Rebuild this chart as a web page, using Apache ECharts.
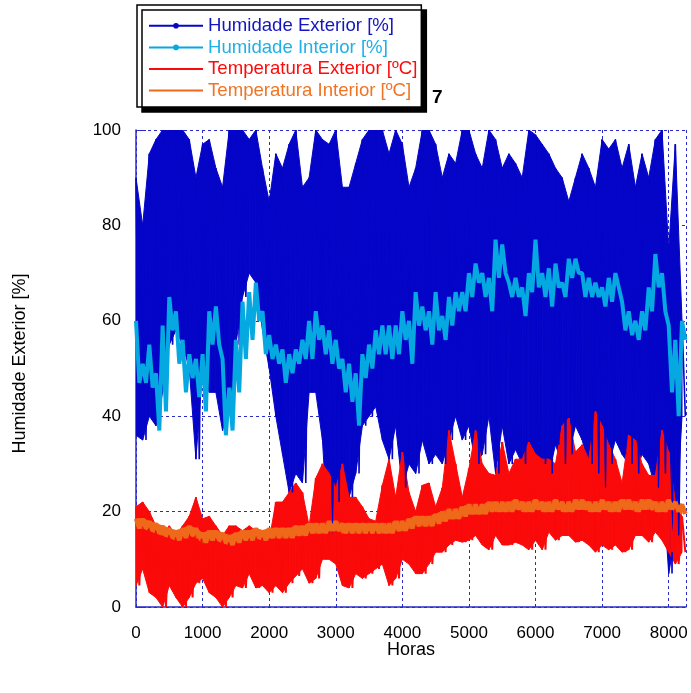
<!DOCTYPE html>
<html>
<head>
<meta charset="utf-8">
<title>Humidade e Temperatura</title>
<script src="https://cdn.jsdelivr.net/npm/echarts@6/dist/echarts.min.js"></script>
<style>
    html, body { margin: 0; padding: 0; background: #fff; }
    #chart { width: 691px; height: 693px; }
</style>
</head>
<body>
<div id="chart"></div>
<script>
// each value is the max (hi) / min (lo) for a 100 hour bin (0, 100, ... 8200)
var binStep = 100;

var humExtHi = [90, 80, 95, 98, 100, 100, 100, 100, 98, 90,
    97, 98, 92, 88, 100, 100, 100, 98, 100, 92,
    85, 95, 92, 97, 100, 88, 90, 100, 98, 97,
    100, 88, 88, 93, 98, 100, 100, 100, 95, 100,
    97, 88, 92, 100, 100, 97, 90, 95, 93, 100,
    100, 95, 92, 100, 98, 92, 95, 93, 90, 100,
    99, 97, 95, 92, 90, 85, 90, 95, 92, 88,
    98, 96, 98, 92, 97, 88, 95, 90, 98, 100,
    75, 97, 60];
var humExtLo = [36, 35, 40, 38, 45, 55, 58, 55, 50, 31,
    50, 45, 45, 37, 42, 55, 65, 70, 68, 58,
    50, 40, 32, 24, 28, 26, 45, 45, 35, 12,
    22, 30, 23, 28, 38, 40, 42, 35, 31, 38,
    25, 30, 28, 35, 30, 32, 30, 35, 40, 35,
    38, 30, 32, 40, 28, 38, 30, 33, 30, 34,
    32, 30, 28, 34, 30, 32, 38, 35, 30, 28,
    25, 30, 35, 32, 30, 28, 32, 30, 25, 28,
    7, 15, 40];

var humIntHi = [60, 51, 55, 49, 59, 65, 62, 56, 53, 52,
    53, 62, 63, 52, 46, 56, 64, 66, 68, 62,
    57, 55, 54, 53, 54, 56, 60, 62, 59, 58,
    56, 52, 51, 49, 53, 55, 58, 59, 59, 59,
    62, 60, 66, 63, 62, 66, 61, 65, 66, 66,
    70, 72, 70, 69, 77, 76, 68, 69, 67, 70,
    77, 70, 71, 72, 68, 73, 73, 70, 69, 68,
    67, 69, 70, 64, 62, 60, 62, 67, 74, 70,
    59, 56, 60];
var humIntLo = [47, 47, 46, 37, 41, 58, 51, 45, 48, 44,
    41, 55, 55, 36, 37, 45, 52, 56, 60, 53,
    52, 51, 47, 49, 51, 52, 52, 56, 53, 51,
    50, 45, 43, 38, 48, 50, 53, 53, 52, 53,
    56, 51, 59, 58, 55, 58, 56, 59, 62, 62,
    65, 68, 65, 62, 69, 70, 65, 65, 61, 66,
    67, 65, 63, 67, 65, 69, 70, 65, 65, 65,
    63, 64, 67, 58, 57, 56, 58, 62, 67, 62,
    45, 40, 56];

var tempExtHi = [21, 22, 20, 17, 15, 17, 15, 17, 19, 23,
    18.5, 19, 17, 15, 17, 17, 16, 17, 16, 16,
    14, 22, 22, 24, 26, 24, 17, 27, 30, 28,
    25, 30, 23, 23, 21, 18.5, 18, 25.5, 31, 23,
    32.5, 24, 20, 25.5, 26, 21, 25, 37, 30, 23,
    29, 37, 30, 28, 27.6, 34.6, 28, 31, 31, 34.6,
    32, 31, 31, 30, 38, 39.6, 32.5, 34, 31, 41,
    38, 34, 31, 26, 36, 35, 30, 27.6, 27.6, 37,
    32.5, 22, 19];
var tempExtLo = [4.5, 8, 3, 2, 0, 4.5, 2, 0, 2, 5,
    6, 3, 2, 0, 2, 4.5, 4, 7, 4, 4.5,
    3, 4.5, 3, 5, 6.5, 8, 5, 6, 10, 10,
    9, 4.5, 4, 7, 6, 7, 8, 9, 4.5, 6,
    10, 9, 7, 7, 9, 11.5, 11.5, 13, 14, 13.6,
    14, 15, 13, 12, 15, 13, 13, 13.6, 13, 12,
    14, 12, 15.7, 14, 15, 15, 13.6, 14, 13, 11.5,
    13, 12, 13, 11.5, 12, 15, 15, 13.6, 15.7, 14,
    11.5, 9, 11.5];

var tempIntHi = [18.5, 18.5, 18, 17.5, 17, 16.5, 16, 16.5, 17, 16.5,
    15.5, 16, 16, 15.5, 15, 15.5, 16, 16, 16.5, 16,
    16.5, 16.5, 16.5, 16.5, 17, 17, 17.5, 17.5, 17.5, 18,
    18, 17.5, 17.5, 17.5, 17.5, 17.5, 17.5, 17.5, 17.5, 18,
    18, 18.5, 19, 19, 19, 19.5, 20, 20.5, 20.5, 21,
    21.5, 21.5, 21.5, 22, 22, 22, 22, 22.5, 22, 22,
    22.5, 22, 22, 22.5, 22, 22, 22.5, 22.5, 22, 22,
    22.5, 22, 22, 22.5, 22.5, 22, 22.5, 22.5, 22, 22,
    22.5, 22, 21.5];
var tempIntLo = [16.5, 16.5, 16, 15.5, 15, 14.5, 14, 14.5, 15, 14.5,
    13.5, 14, 14, 13.5, 13, 13.5, 14, 14, 14.5, 14,
    14.5, 14.5, 14.5, 14.5, 15, 15, 15.5, 15.5, 15.5, 16,
    16, 15.5, 15.5, 15.5, 15.5, 15.5, 15.5, 15.5, 15.5, 16,
    16, 16.5, 17, 17, 17, 17.5, 18, 18.5, 18.5, 19,
    19.5, 19.5, 19.5, 20, 20, 20, 20, 20.5, 20, 20,
    20.5, 20, 20, 20.5, 20, 20, 20.5, 20.5, 20, 20,
    20.5, 20, 20, 20.5, 20.5, 20, 20.5, 20.5, 20, 20,
    20.5, 20, 19.5];

var seriesNames = ['Humidade Exterior [%]', 'Humidade Interior [%]', 'Temperatura Exterior [ºC]', 'Temperatura Interior [ºC]'];
var seriesColors = ['#0505c8', '#05a8e0', '#fa0a0a', '#ee6a1a'];
var legendTextColors = ['#1414c0', '#1eb0e6', '#ff0a0a', '#f07424'];

// hi at the start of the bin, lo at its middle -> dense trace like the hourly data
function zigzag(hi, lo) {
    var pts = [];
    for (var i = 0; i < hi.length; i++) {
        pts.push([i * binStep, hi[i]]);
        pts.push([i * binStep + binStep / 2, lo[i]]);
    }
    return pts;
}

// filled band lo..hi: one quad per bin, drawn by a custom series through the axes
function bandSeries(id, hi, lo, color) {
    var rows = [];
    for (var i = 0; i < hi.length - 1; i++) {
        rows.push([i * binStep, lo[i], hi[i], (i + 1) * binStep, lo[i + 1], hi[i + 1]]);
    }
    return {
        name: id,
        type: 'custom',
        silent: true,
        clip: true,
        data: rows,
        encode: {x: [0, 3], y: [1, 2, 4, 5]},
        renderItem: function (params, api) {
            var pts = [
                api.coord([api.value(0), api.value(1)]),
                api.coord([api.value(0), api.value(2)]),
                api.coord([api.value(3), api.value(5)]),
                api.coord([api.value(3), api.value(4)])
            ];
            return {
                type: 'polygon',
                shape: {points: pts},
                style: {fill: color, stroke: color, lineWidth: 1}
            };
        }
    };
}

var font = 'Liberation Sans, Arial, sans-serif';
var gridBlue = '#2a2ac8';

var series = [];
series.push(bandSeries('hext', humExtHi, humExtLo, seriesColors[0]));
series.push({
    name: seriesNames[0], type: 'line', data: zigzag(humExtHi, humExtLo),
    symbol: 'circle', symbolSize: 6, showSymbol: false,
    lineStyle: {color: seriesColors[0], width: 1.6}, itemStyle: {color: seriesColors[0]}
});
series.push({
    name: seriesNames[1], type: 'line', data: zigzag(humIntHi, humIntLo),
    symbol: 'circle', symbolSize: 6, showSymbol: false,
    lineStyle: {color: seriesColors[1], width: 4}, itemStyle: {color: seriesColors[1]}
});
series.push(bandSeries('text', tempExtHi, tempExtLo, seriesColors[2]));
series.push({
    name: seriesNames[2], type: 'line', data: zigzag(tempExtHi, tempExtLo),
    symbol: 'none', lineStyle: {color: seriesColors[2], width: 2}, itemStyle: {color: seriesColors[2]}
});
series.push(bandSeries('tint', tempIntHi, tempIntLo, seriesColors[3]));
series.push({
    name: seriesNames[3], type: 'line', data: zigzag(tempIntHi, tempIntLo),
    symbol: 'none', lineStyle: {color: seriesColors[3], width: 4.5}, itemStyle: {color: seriesColors[3]}
});

var chart = echarts.init(document.getElementById('chart'), null, {renderer: 'canvas'});
chart.setOption({
    animation: false,
    backgroundColor: '#fff',
    textStyle: {fontFamily: font},
    grid: {
        left: 136,
        top: 130,
        right: 5,
        bottom: 86,
        containLabel: false,
        outerBoundsMode: 'none'
    },
    legend: {
        orient: 'vertical',
        left: 137,
        top: 5,
        padding: [11.3, 4, 7, 11],
        backgroundColor: '#fff',
        borderColor: '#000',
        borderWidth: 1.5,
        borderRadius: 0,
        shadowColor: '#000',
        shadowBlur: 0,
        shadowOffsetX: 5,
        shadowOffsetY: 5,
        itemWidth: 54,
        itemHeight: 7,
        itemGap: 2.6,
        selectedMode: false,
        textStyle: {fontFamily: font, fontSize: 18.6},
        data: seriesNames.map(function (name, i) {
            var item = {name: name, textStyle: {color: legendTextColors[i]}};
            if (i >= 2) item.itemStyle = {opacity: 0};
            return item;
        })
    },
    graphic: [{
        type: 'text',
        left: 432,
        top: 88,
        style: {text: '7', font: 'bold 19px ' + font, fill: '#000'}
    }],
    xAxis: {
        type: 'value',
        min: 0,
        max: 8260,
        interval: 1000,
        name: 'Horas',
        nameLocation: 'middle',
        nameGap: 34,
        nameMoveOverlap: false,
        nameTextStyle: {fontSize: 18, color: '#000', fontFamily: font},
        axisLine: {show: true, lineStyle: {color: gridBlue, width: 1.5}},
        axisTick: {show: false},
        axisLabel: {
            margin: 18,
            fontSize: 17,
            color: '#000',
            fontFamily: font,
            showMaxLabel: false,
            formatter: function (v) { return String(v); }
        },
        splitLine: {show: true, lineStyle: {color: gridBlue, type: [3, 3], width: 1}}
    },
    yAxis: {
        type: 'value',
        min: 0,
        max: 100,
        interval: 20,
        name: 'Humidade Exterior [%]',
        nameLocation: 'middle',
        nameGap: 107,
        nameTextStyle: {fontSize: 18, color: '#000', fontFamily: font, padding: [0, 0, 0, 10]},
        axisLine: {show: true, lineStyle: {color: gridBlue, width: 1.5}},
        axisTick: {show: true, inside: true, length: 10, lineStyle: {color: gridBlue}},
        axisLabel: {margin: 15, fontSize: 17, color: '#000', fontFamily: font},
        splitLine: {show: true, lineStyle: {color: gridBlue, type: [3, 3], width: 1}}
    },
    series: series
});
</script>
</body>
</html>
